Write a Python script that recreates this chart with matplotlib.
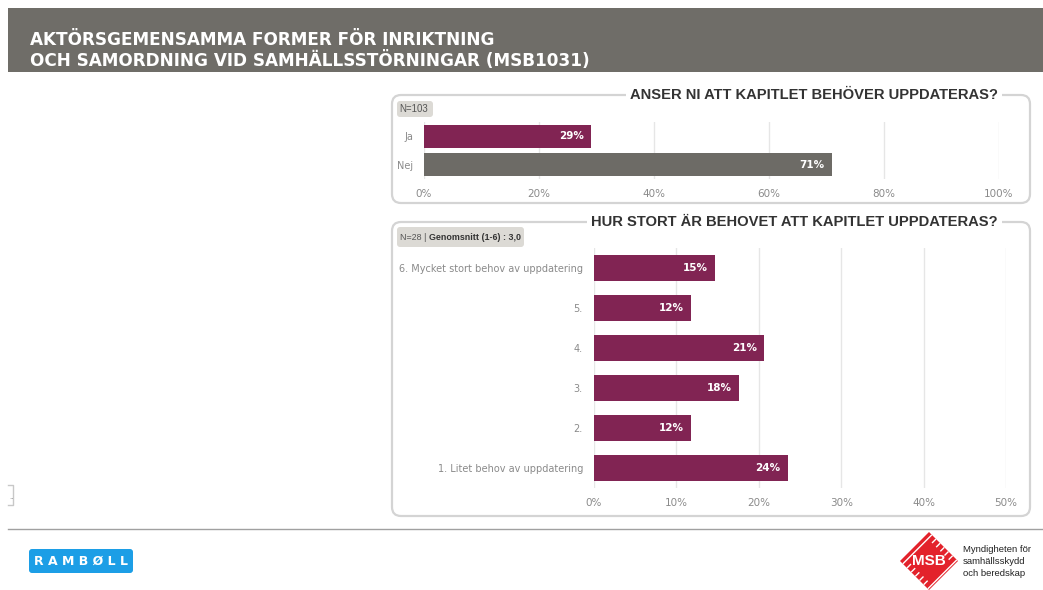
import numpy as np
import matplotlib.pyplot as plt
from matplotlib.patches import FancyBboxPatch, Rectangle, RegularPolygon

W, H = 1043, 590

# Data
header_lines = ["AKTÖRSGEMENSAMMA FORMER FÖR INRIKTNING",
                "OCH SAMORDNING VID SAMHÄLLSSTÖRNINGAR (MSB1031)"]

q1_title = "ANSER NI ATT KAPITLET BEHÖVER UPPDATERAS?"
q1_note = "N=103"
q1_labels = ["Ja", "Nej"]
q1_values = [29.1, 70.9]
q1_text = ["29%", "71%"]

q2_title = "HUR STORT ÄR BEHOVET ATT KAPITLET UPPDATERAS?"
q2_note_a = "N=28 | "
q2_note_b = "Genomsnitt (1-6) : 3,0"
q2_labels = ["6. Mycket stort behov av uppdatering", "5.", "4.", "3.", "2.",
             "1. Litet behov av uppdatering"]
q2_values = [14.7, 11.8, 20.6, 17.6, 11.8, 23.5]
q2_text = ["15%", "12%", "21%", "18%", "12%", "24%"]

PURPLE = "#812453"
GREY = "#6d6b66"
TICK = "#8a8a8a"
SANS = "Liberation Sans"


def px(x0, y0, x1, y1):
    # pixel box (top-left origin) -> figure fraction
    return [x0 / W, 1 - y1 / H, (x1 - x0) / W, (y1 - y0) / H]


fig = plt.figure(figsize=(W / 100, H / 100), dpi=100)
bg = fig.add_axes([0, 0, 1, 1])
bg.set_xlim(0, W)
bg.set_ylim(H, 0)
bg.axis("off")

# header band
bg.add_patch(Rectangle((8, 8), W - 8, 64, color="#6f6d68", lw=0))
bg.text(30, 40, header_lines[0], color="white", fontsize=12.2, fontweight="bold",
        va="center", family="DejaVu Sans")
bg.text(30, 61, header_lines[1], color="white", fontsize=12.2, fontweight="bold",
        va="center", family="DejaVu Sans")

# panel frames
for (x0, y0, x1, y1) in [(392, 95, 1030, 203), (392, 222, 1030, 516)]:
    bg.add_patch(FancyBboxPatch((x0, y0), x1 - x0, y1 - y0,
                                boxstyle="round,pad=0,rounding_size=9",
                                fc="white", ec="#d4d4d4", lw=1.6))

for ty, title in [(95, q1_title), (222, q2_title)]:
    bg.text(998, ty, title, ha="right", va="center", fontsize=10.6, fontweight="bold",
            family=SANS, color="#333333",
            bbox=dict(fc="white", ec="none", pad=3))

# N boxes
bg.add_patch(FancyBboxPatch((397, 101), 36, 16, boxstyle="round,pad=0,rounding_size=3",
                            fc="#dcdad5", ec="none"))
bg.text(399.5, 109, q1_note, fontsize=7, va="center", color="#555555", family=SANS)
bg.add_patch(FancyBboxPatch((397, 227), 127, 20, boxstyle="round,pad=0,rounding_size=3",
                            fc="#dcdad5", ec="none"))
t = bg.text(400, 237, q2_note_a, fontsize=6.4, va="center", color="#555555", family=SANS)
bg.annotate(q2_note_b, xy=(1, 0.5), xycoords=t, xytext=(0, 0), textcoords="offset points",
            va="center", ha="left", fontsize=6.4, fontweight="bold", color="#333333",
            family=SANS)

# small marker at left
bg.plot([8, 13, 13, 8], [485, 485, 505, 505], color="#c8c8c8", lw=1)
bg.text(9, 497, "..", fontsize=5, color="#888888", va="center")

# footer
bg.plot([8, W], [529, 529], color="#a0a0a0", lw=1)
bg.add_patch(FancyBboxPatch((29, 549), 104, 24, boxstyle="round,pad=0,rounding_size=3",
                            fc="#1c9ee6", ec="none"))
bg.text(81, 561.5, "R A M B Ø L L", color="white", fontsize=9, fontweight="bold",
        ha="center", va="center")

bg.add_patch(RegularPolygon((929, 561), 4, radius=29, orientation=0,
                            fc="#e3222b", ec="white", hatch="////", lw=0))
bg.add_patch(RegularPolygon((929, 561), 4, radius=21, orientation=0,
                            fc="#e3222b", ec="none"))
bg.text(929, 561, "MSB", color="white", fontsize=11, fontweight="bold",
        ha="center", va="center", family=SANS)
for i, line in enumerate(["Myndigheten för", "samhällsskydd", "och beredskap"]):
    bg.text(963, 549 + i * 12.5, line, fontsize=6.8, va="center", color="#222222",
            family=SANS)


def bar_chart(ax, labels, values, texts, colors, xmax, step, height):
    y = np.arange(len(labels))
    ax.barh(y, values, height=height, color=colors, zorder=3)
    ax.set_ylim(len(labels) - 0.5, -0.5)
    ax.set_xlim(0, xmax)
    ticks = np.arange(0, xmax + 0.1, step)
    ax.set_xticks(ticks)
    ax.set_xticklabels(["{:d}%".format(int(v)) for v in ticks])
    ax.set_yticks(y)
    ax.set_yticklabels(labels)
    for v in ticks:
        ax.axvline(v, color="#e6e6e6", lw=1, zorder=1)
    for s in ax.spines.values():
        s.set_visible(False)
    ax.tick_params(length=0, colors=TICK, labelsize=7.5)
    ax.tick_params(axis="x", pad=7)
    ax.tick_params(axis="y", pad=8, labelsize=7)
    for yi, v, s in zip(y, values, texts):
        ax.annotate(s, (v, yi), xytext=(-5, 0), textcoords="offset points",
                    ha="right", va="center", color="white", fontsize=7.5,
                    fontweight="bold", zorder=4)


ax1 = fig.add_axes(px(424, 122, 999, 179))
bar_chart(ax1, q1_labels, q1_values, q1_text, [PURPLE, GREY], 100, 20, 0.81)

ax2 = fig.add_axes(px(594, 248, 1006, 488))
bar_chart(ax2, q2_labels, q2_values, q2_text, [PURPLE] * 6, 50, 10, 0.65)

fig.savefig("out.png", dpi=100)
